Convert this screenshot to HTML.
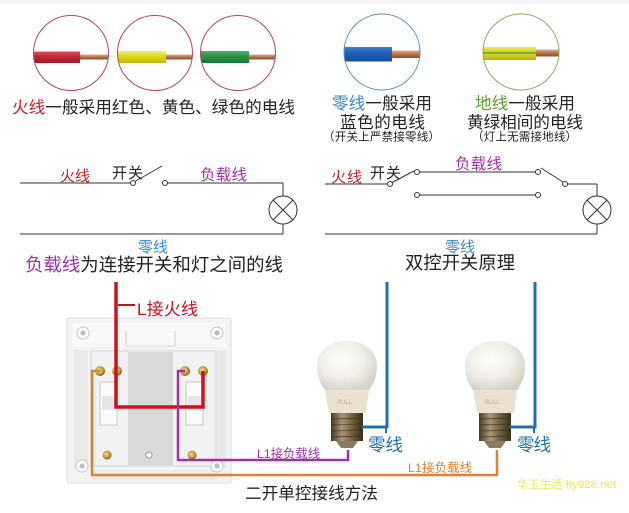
<!DOCTYPE html>
<html><head><meta charset="utf-8">
<style>
html,body{margin:0;padding:0;background:#fff;}
svg{display:block;}
text{font-family:"Liberation Sans","Noto Sans CJK SC",sans-serif;}
</style></head>
<body>
<svg width="629" height="513" viewBox="0 0 629 513" xmlns="http://www.w3.org/2000/svg">
<defs>
<linearGradient id="cu" x1="0" y1="0" x2="0" y2="1">
<stop offset="0" stop-color="#e0b090"/><stop offset="0.5" stop-color="#b87048"/><stop offset="1" stop-color="#8a5030"/>
</linearGradient>
<linearGradient id="rd" x1="0" y1="0" x2="0" y2="1">
<stop offset="0" stop-color="#e05060"/><stop offset="0.4" stop-color="#c82838"/><stop offset="1" stop-color="#a01828"/>
</linearGradient>
<linearGradient id="yl" x1="0" y1="0" x2="0" y2="1">
<stop offset="0" stop-color="#f0f070"/><stop offset="0.4" stop-color="#e0dc20"/><stop offset="1" stop-color="#c0b810"/>
</linearGradient>
<linearGradient id="gn" x1="0" y1="0" x2="0" y2="1">
<stop offset="0" stop-color="#50b070"/><stop offset="0.4" stop-color="#289848"/><stop offset="1" stop-color="#1a7838"/>
</linearGradient>
<linearGradient id="bl" x1="0" y1="0" x2="0" y2="1">
<stop offset="0" stop-color="#4080d0"/><stop offset="0.4" stop-color="#2060b8"/><stop offset="1" stop-color="#184c98"/>
</linearGradient>
<linearGradient id="yg" x1="0" y1="0" x2="0" y2="1">
<stop offset="0" stop-color="#e8e860"/><stop offset="0.35" stop-color="#d8d428"/><stop offset="0.45" stop-color="#60a030"/><stop offset="0.6" stop-color="#d8d428"/><stop offset="1" stop-color="#b8b010"/>
</linearGradient>
<radialGradient id="glob" cx="0.42" cy="0.38" r="0.65">
<stop offset="0" stop-color="#fdfdfb"/><stop offset="0.55" stop-color="#f1efea"/><stop offset="1" stop-color="#d6d3ca"/>
</radialGradient>
<linearGradient id="base" x1="0" y1="0" x2="1" y2="0">
<stop offset="0" stop-color="#4a3c26"/><stop offset="0.35" stop-color="#a89878"/><stop offset="0.6" stop-color="#7a6a4a"/><stop offset="1" stop-color="#3a2e1a"/>
</linearGradient>
<radialGradient id="scr" cx="0.4" cy="0.4" r="0.6">
<stop offset="0" stop-color="#f0d890"/><stop offset="0.7" stop-color="#c09838"/><stop offset="1" stop-color="#806020"/>
</radialGradient>
</defs>

<rect x="0" y="0" width="629" height="4" fill="#f6f6f6"/>

<g>
<clipPath id="c1"><circle cx="71" cy="53" r="37.5"/></clipPath>
<clipPath id="c2"><circle cx="155" cy="53" r="37.5"/></clipPath>
<clipPath id="c3"><circle cx="238" cy="53" r="37.5"/></clipPath>
<clipPath id="c4"><circle cx="382" cy="52" r="38"/></clipPath>
<clipPath id="c5"><circle cx="521" cy="52" r="38"/></clipPath>
<g clip-path="url(#c1)"><rect x="78" y="54.5" width="40" height="5" fill="url(#cu)"/><rect x="30" y="51.5" width="50" height="11.5" fill="url(#rd)"/></g>
<g clip-path="url(#c2)"><rect x="163" y="54.5" width="40" height="5" fill="url(#cu)"/><rect x="110" y="51" width="56" height="12" fill="url(#yl)"/></g>
<g clip-path="url(#c3)"><rect x="247" y="54.5" width="40" height="5" fill="url(#cu)"/><rect x="195" y="51" width="54" height="12" fill="url(#gn)"/></g>
<g clip-path="url(#c4)"><rect x="390" y="50.5" width="40" height="7.5" fill="url(#cu)"/><rect x="340" y="47" width="52" height="14.5" fill="url(#bl)"/></g>
<g clip-path="url(#c5)"><rect x="534" y="49.5" width="40" height="7" fill="url(#cu)"/><rect x="480" y="47" width="56" height="13" fill="url(#yg)"/></g>
<circle cx="71" cy="53" r="37.5" fill="none" stroke="#b04858" stroke-width="1"/>
<circle cx="155" cy="53" r="37.5" fill="none" stroke="#b04858" stroke-width="1"/>
<circle cx="238" cy="53" r="37.5" fill="none" stroke="#b04858" stroke-width="1"/>
<circle cx="382" cy="52" r="38" fill="none" stroke="#5090c0" stroke-width="1"/>
<circle cx="521" cy="52" r="38" fill="none" stroke="#80a860" stroke-width="1"/>
</g>

<text x="12" y="113" font-size="16.6" textLength="283" lengthAdjust="spacing" fill="#222"><tspan fill="#c8202a">火线</tspan>一般采用红色、黄色、绿色的电线</text>
<text x="332" y="109" font-size="16.6" textLength="100" lengthAdjust="spacing" fill="#222"><tspan fill="#3a88c8">零线</tspan>一般采用</text>
<text x="340" y="128" font-size="16.6" textLength="85" lengthAdjust="spacing" fill="#222">蓝色的电线</text>
<text x="323" y="140.5" font-size="11.5" textLength="117" lengthAdjust="spacing" fill="#222">（开关上严禁接零线）</text>
<text x="475" y="109" font-size="16.6" textLength="100" lengthAdjust="spacing" fill="#222"><tspan fill="#58a030">地线</tspan>一般采用</text>
<text x="467" y="128" font-size="16.6" textLength="116" lengthAdjust="spacing" fill="#222">黄绿相间的电线</text>
<text x="472" y="140.5" font-size="11.5" textLength="105" lengthAdjust="spacing" fill="#222">（灯上无需接地线）</text>

<g stroke="#333" stroke-width="1" fill="none">
<line x1="20" y1="183" x2="130.5" y2="183"/>
<circle cx="133" cy="183" r="2.5" fill="#fff"/>
<line x1="135" y1="181.5" x2="162" y2="166"/>
<circle cx="165" cy="183" r="2.5" fill="#fff"/>
<line x1="167.5" y1="183" x2="283" y2="183"/>
<line x1="283" y1="183" x2="283" y2="196"/>
<circle cx="283" cy="210" r="14"/>
<line x1="273.1" y1="200.1" x2="292.9" y2="219.9"/>
<line x1="292.9" y1="200.1" x2="273.1" y2="219.9"/>
<line x1="283" y1="224" x2="283" y2="234"/>
<line x1="20" y1="234" x2="283" y2="234"/>
</g>
<text x="60" y="181" font-size="15" textLength="30" fill="#c8202a">火线</text>
<text x="112" y="178" font-size="15" textLength="31" fill="#222">开关</text>
<text x="200" y="180" font-size="15.5" textLength="47" fill="#a030a8">负载线</text>
<text x="138" y="252" font-size="15" textLength="30" fill="#3a8cc8">零线</text>
<text x="25" y="271" font-size="18.4" textLength="258" lengthAdjust="spacing" fill="#222"><tspan fill="#a030a8">负载线</tspan>为连接开关和灯之间的线</text>

<g stroke="#333" stroke-width="1" fill="none">
<line x1="325" y1="184" x2="387.5" y2="184"/>
<circle cx="390" cy="184" r="2.5" fill="#fff"/>
<line x1="392" y1="182.5" x2="414" y2="171"/>
<circle cx="417" cy="172" r="2.5" fill="#fff"/>
<line x1="419.5" y1="172" x2="535.5" y2="172"/>
<circle cx="538" cy="172" r="2.5" fill="#fff"/>
<circle cx="417" cy="195" r="2.5" fill="#fff"/>
<line x1="419.5" y1="195" x2="535.5" y2="195"/>
<circle cx="538" cy="195" r="2.5" fill="#fff"/>
<line x1="541" y1="168" x2="563" y2="182"/>
<circle cx="565" cy="184" r="2.5" fill="#fff"/>
<line x1="567.5" y1="184" x2="597" y2="184"/>
<line x1="597" y1="184" x2="597" y2="196"/>
<circle cx="597" cy="210" r="14"/>
<line x1="587.1" y1="200.1" x2="606.9" y2="219.9"/>
<line x1="606.9" y1="200.1" x2="587.1" y2="219.9"/>
<line x1="597" y1="224" x2="597" y2="234"/>
<line x1="325" y1="234" x2="597" y2="234"/>
</g>
<text x="331" y="182" font-size="15" textLength="31" fill="#c8202a">火线</text>
<text x="370" y="178" font-size="15" textLength="31" fill="#222">开关</text>
<text x="455" y="169" font-size="15.5" textLength="47" fill="#a030a8">负载线</text>
<text x="445" y="252" font-size="15" textLength="30" fill="#3a8cc8">零线</text>
<text x="405" y="269" font-size="18.3" textLength="110" lengthAdjust="spacing" fill="#222">双控开关原理</text>

<g>
<rect x="67" y="318" width="164" height="165" rx="2" fill="#f3f3f3" stroke="#dcdcdc"/>
<rect x="72" y="323" width="154" height="24" fill="#f8f8f8"/>
<line x1="126" y1="331" x2="126" y2="346" stroke="#d0d0d0"/>
<line x1="175" y1="331" x2="175" y2="346" stroke="#d0d0d0"/>
<line x1="126" y1="346" x2="175" y2="346" stroke="#d8d8d8"/>
<rect x="74" y="350" width="14" height="118" fill="#e9e9e9"/>
<rect x="212" y="350" width="14" height="118" fill="#e9e9e9"/>
<rect x="90" y="350" width="127" height="117" fill="#e4e4e4"/>
<rect x="92" y="352" width="36" height="113" fill="#f2f2f2"/>
<rect x="173" y="352" width="42" height="113" fill="#f2f2f2"/>
<rect x="128" y="352" width="45" height="113" fill="#d9d9d9"/>
<rect x="100" y="382" width="17" height="43" fill="#fafafa" stroke="#bdbdbd" stroke-width="0.8"/>
<rect x="102" y="396" width="13" height="14" fill="#e6e6e6"/>
<rect x="186" y="382" width="17" height="43" fill="#fafafa" stroke="#bdbdbd" stroke-width="0.8"/>
<rect x="188" y="396" width="13" height="14" fill="#e6e6e6"/>
<rect x="92" y="470" width="123" height="10" fill="#ececec"/>
<circle cx="83" cy="333" r="6" fill="#fdfdfd" stroke="#c8c8c8"/>
<circle cx="83" cy="333" r="2.5" fill="#bbb"/>
<circle cx="217" cy="333" r="6" fill="#fdfdfd" stroke="#c8c8c8"/>
<circle cx="217" cy="333" r="2.5" fill="#bbb"/>
<circle cx="82" cy="466" r="6" fill="#fdfdfd" stroke="#c8c8c8"/>
<circle cx="82" cy="466" r="2.5" fill="#bbb"/>
<circle cx="217" cy="466" r="6" fill="#fdfdfd" stroke="#c8c8c8"/>
<circle cx="217" cy="466" r="2.5" fill="#bbb"/>
<circle cx="100" cy="371" r="5" fill="url(#scr)"/>
<circle cx="117" cy="371" r="5" fill="url(#scr)"/>
<circle cx="185" cy="371" r="5" fill="url(#scr)"/>
<circle cx="203" cy="371" r="5" fill="url(#scr)"/>
<circle cx="107" cy="455" r="4.5" fill="url(#scr)"/>
<circle cx="192" cy="455" r="4.5" fill="url(#scr)"/>
<circle cx="149" cy="455" r="3" fill="#fff" stroke="#999"/>
</g>

<g>
<path d="M325 390 C318 381 317 372 317 365 C317 351 330 341 347 341 C364 341 377 351 377 365 C377 372 376 381 369 390 Z" fill="url(#glob)"/>
<path d="M325 390 L369 390 L366 413 L329 413 Z" fill="#e9e2d0"/>
<text x="337" y="404" font-size="6" fill="#b8b0a0">BULL</text>
<rect x="331" y="413" width="32" height="28" fill="url(#base)"/>
<g stroke="#3a2e1a" stroke-width="1" opacity="0.6">
<line x1="331" y1="419" x2="363" y2="418"/><line x1="331" y1="425" x2="363" y2="424"/><line x1="331" y1="431" x2="363" y2="430"/><line x1="331" y1="437" x2="363" y2="436"/>
</g>
<path d="M336 441 L358 441 L353 448 L341 448 Z" fill="#8a7a60"/>
</g>
<g>
<path d="M473 390 C466 381 465 372 465 365 C465 351 478 341 495 341 C512 341 525 351 525 365 C525 372 524 381 517 390 Z" fill="url(#glob)"/>
<path d="M473 390 L517 390 L514 413 L477 413 Z" fill="#e9e2d0"/>
<text x="485" y="404" font-size="6" fill="#b8b0a0">BULL</text>
<rect x="479" y="413" width="32" height="28" fill="url(#base)"/>
<g stroke="#3a2e1a" stroke-width="1" opacity="0.6">
<line x1="479" y1="419" x2="511" y2="418"/><line x1="479" y1="425" x2="511" y2="424"/><line x1="479" y1="431" x2="511" y2="430"/><line x1="479" y1="437" x2="511" y2="436"/>
</g>
<path d="M484 441 L506 441 L501 448 L489 448 Z" fill="#8a7a60"/>
</g>

<g fill="none" stroke-linejoin="miter">
<polyline points="116,282 116,407 203,407 203,371" stroke="#d0101a" stroke-width="3.5"/>
<line x1="118" y1="305" x2="135" y2="305" stroke="#c8101a" stroke-width="2"/>
<polyline points="185,371 178,371 178,460 348,460 348,450" stroke="#a030a8" stroke-width="2.5"/>
<polyline points="100,371 92,371 92,475 497,475 497,450" stroke="#e08030" stroke-width="2.5"/>
<polyline points="387,282 387,427 362,427" stroke="#2070b0" stroke-width="3"/>
<line x1="386" y1="427" x2="386" y2="433" stroke="#2070b0" stroke-width="2"/>
<polyline points="535,282 535,427 510,427" stroke="#2070b0" stroke-width="3"/>
<line x1="534" y1="427" x2="534" y2="433" stroke="#2070b0" stroke-width="2"/>
</g>

<text x="137" y="315" font-size="17" textLength="61" fill="#c8101a">L接火线</text>
<text x="257" y="458" font-size="12.3" textLength="63" fill="#a030a8">L1接负载线</text>
<text x="408" y="472" font-size="12.3" textLength="64" fill="#e08030">L1接负载线</text>
<text x="368" y="451" font-size="17.5" textLength="35" fill="#2070b0">零线</text>
<text x="517" y="451" font-size="17.5" textLength="34" fill="#2070b0">零线</text>
<text x="245" y="499" font-size="16.6" textLength="133" lengthAdjust="spacing" fill="#222">二开单控接线方法</text>
<text x="517" y="488" font-size="11" textLength="99" lengthAdjust="spacingAndGlyphs" fill="#f0e458" font-family="Liberation Serif, Noto Serif CJK SC, serif">华玉生活 hy928.net</text>
</svg>
</body></html>
